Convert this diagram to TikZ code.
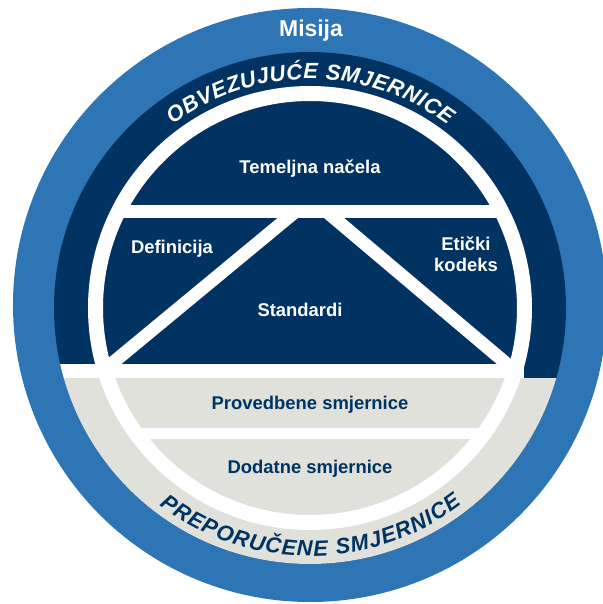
\documentclass[tikz,border=0pt]{standalone}
\usepackage{fontspec}
\setmainfont{Liberation Sans}
\usetikzlibrary{decorations.text}
\definecolor{misblue}{RGB}{46,117,182}
\definecolor{navy}{RGB}{0,51,98}
\definecolor{lgray}{RGB}{224,225,219}

\begin{document}
\begin{tikzpicture}[x=1bp, y=1bp, lbl/.style = {anchor=base, font=\fontsize{18.5}{21}\selectfont\bfseries, text=white}, glbl/.style = {lbl, text=navy}, gap/.style = {white, line width=13bp}]
		\useasboundingbox (-310,-296) rectangle (293,308);
		\fill[misblue] (0,3) circle (297);
		\fill[navy] (0,0) circle (256);
		\begin{scope}
			\clip (0,0) circle (256);
			\fill[lgray] (-260,-70) rectangle (260,-260);
			\fill[white] (-260,-70) rectangle (214,-56);
		\end{scope}
		\draw[white, line width=15bp] (0,0) circle (214.5);
		\begin{scope}
			\clip (0,0) circle (208);
			\fill[white] (-210,90) rectangle (210,103);
			\fill[white] (-210,-131) rectangle (210,-120);
			\draw[gap] (-15,96) -- (-206,-62);
			\draw[gap] (17,96) -- (204,-62);
		\end{scope}
		\node[lbl, font=\fontsize{23}{25}\selectfont\bfseries] (mis) at (1,271) {Misija};
		\node[lbl] (tem) at (0,134) {Temeljna načela};
		\node[lbl] (def) at (-138,54) {Definicija};
		\node[lbl, anchor=center, align=center] (etk) at (156,54) {Etički\\kodeks};
		\node[lbl] (std) at (-10,-9) {Standardi};
		\node[glbl] (prov) at (0,-102) {Provedbene smjernice};
		\node[glbl] (dod) at (0,-165) {Dodatne smjernice};
		\path[decorate, decoration={text along path, text align=center, text color=white, text={|\fontsize{22}{24}\selectfont\bfseries\itshape\kern0.6bp|OBVEZUJUĆE SMJERNICE}}] (150:229) arc[start angle=150, end angle=30, radius=229];
		\path[decorate, decoration={text along path, text align=center, text color=navy, text={|\fontsize{22}{24}\selectfont\bfseries\itshape\kern1.1bp|PREPORUČENE SMJERNICE}}] (210:248) arc[start angle=210, end angle=330, radius=248];
	\end{tikzpicture}
\end{document}
